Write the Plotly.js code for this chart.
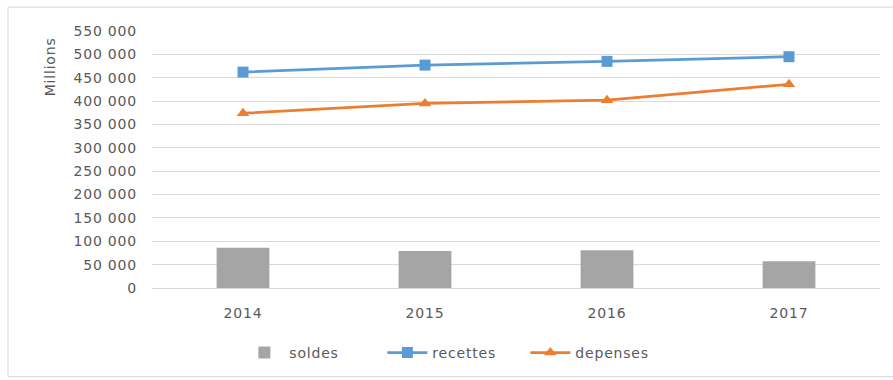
<!DOCTYPE html>
<html>
<head>
<meta charset="utf-8">
<script src="https://cdn.plot.ly/plotly-3.0.1.min.js"></script>
<style>
html,body{margin:0;padding:0;background:#fff;}
#chart{width:893px;height:380px;}
#chart svg text{letter-spacing:0.8px;}
</style>
</head>
<body>
<div id="chart"></div>
<script>
const years = ["2014", "2015", "2016", "2017"];
const soldes = [86000, 79000, 81000, 57000];
const recettes = [462000, 477000, 485000, 495000];
const depenses = [374000, 395000, 402000, 436000];
const yTicks = [0, 50000, 100000, 150000, 200000, 250000, 300000, 350000, 400000, 450000, 500000, 550000];

const fontFam = "DejaVu Sans, Open Sans, sans-serif";
const txtCol = "#595959";

const traces = [
  {
    type: "bar", name: "soldes", x: years, y: soldes,
    marker: {color: "#a5a5a5"}, width: 0.29
  },
  {
    type: "scatter", mode: "lines+markers", name: "recettes", x: years, y: recettes,
    line: {color: "#5b9bd5", width: 2.75},
    marker: {symbol: "square", size: 11, color: "#5b9bd5"}
  },
  {
    type: "scatter", mode: "lines+markers", name: "depenses", x: years, y: depenses,
    line: {color: "#ed7d31", width: 2.75},
    marker: {symbol: "triangle-up", size: 11, color: "#ed7d31"}
  }
];

const layout = {
  width: 893, height: 380,
  margin: {l: 152, r: 13, t: 31, b: 91},
  paper_bgcolor: "#fff", plot_bgcolor: "#fff",
  separators: ". ",
  font: {family: fontFam, size: 14, color: txtCol},
  showlegend: true,
  legend: {
    orientation: "h", x: 0.12, xanchor: "left", y: -0.248, yanchor: "middle",
    font: {family: fontFam, size: 14, color: txtCol}, traceorder: "normal",
    itemwidth: 40, entrywidth: 88, entrywidthmode: "pixels"
  },
  xaxis: {
    type: "category", showgrid: false, zeroline: false,
    showline: true, linecolor: "#d9d9d9", linewidth: 1,
    ticks: "", ticklabelstandoff: 12,
    tickfont: {family: fontFam, size: 14, color: txtCol}
  },
  yaxis: {
    range: [0, 550000], tickvals: yTicks, tickformat: ",d",
    showgrid: true, gridcolor: "#d9d9d9", gridwidth: 1,
    zeroline: false, showline: false, ticks: "", ticklabelstandoff: 14,
    tickfont: {family: fontFam, size: 14, color: txtCol}
  },
  annotations: [{
    text: "Millions", textangle: -90, showarrow: false,
    xref: "paper", yref: "paper", x: -0.14, y: 0.86,
    xanchor: "center", yanchor: "middle",
    font: {family: fontFam, size: 14, color: txtCol}
  }],
  shapes: [{
    type: "rect", xref: "paper", yref: "paper",
    x0: -0.1978, x1: 1.03, y0: -0.345, y1: 1.093,
    line: {color: "#d9d9d9", width: 1}, fillcolor: "rgba(0,0,0,0)", layer: "below"
  }]
};

Plotly.newPlot("chart", traces, layout, {displayModeBar: false, staticPlot: true});
</script>
</body>
</html>
